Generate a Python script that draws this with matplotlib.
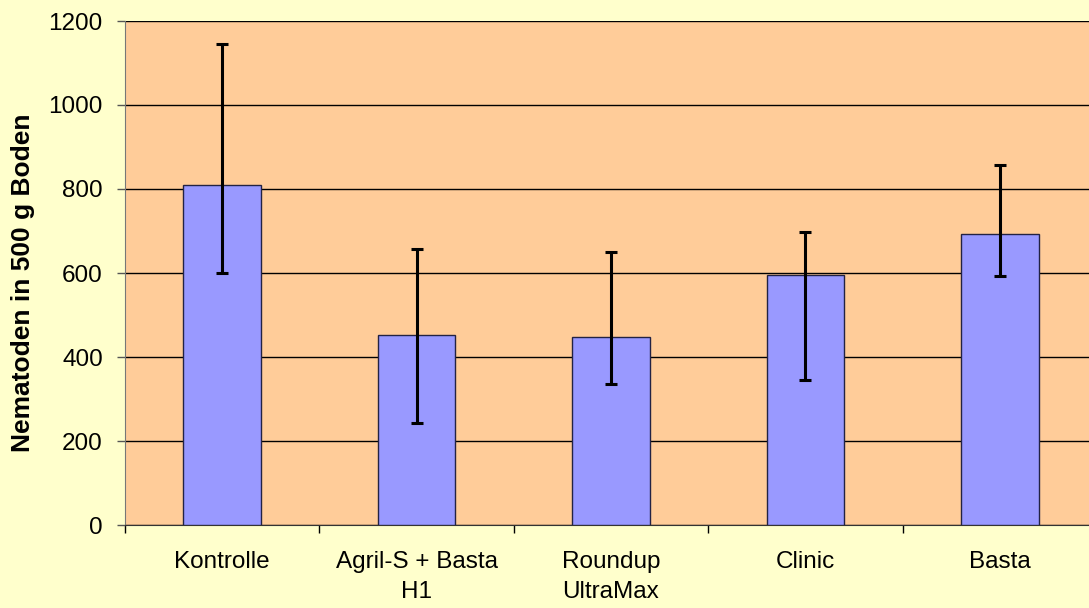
import numpy as np
import matplotlib
matplotlib.use("Agg")
import matplotlib.pyplot as plt
from matplotlib.ticker import FixedLocator

# ===== Daten =====
kategorien = ["Kontrolle", "Agril-S + Basta\nH1", "Roundup\nUltraMax", "Clinic", "Basta"]
mittelwerte = [810, 453, 447, 595, 694]
fehler_oben = [1146, 656, 649, 697, 856]
fehler_unten = [599, 244, 336, 346, 593]
y_ticks = [0, 200, 400, 600, 800, 1000, 1200]

plt.rcParams["font.family"] = ["Liberation Sans", "DejaVu Sans"]

fig = plt.figure(figsize=(10.89, 6.08), dpi=100, facecolor="#FFFFCC")
ax = fig.add_axes([125 / 1089, 1 - 525 / 608, (1097 - 125) / 1089, (525 - 21) / 608])
ax.set_facecolor("#FFCC99")

x = np.arange(len(kategorien))
mw = np.array(mittelwerte)
yerr = [mw - np.array(fehler_unten), np.array(fehler_oben) - mw]

ax.bar(x, mw, width=0.4, color="#9999FF", edgecolor="#222244", linewidth=1, zorder=3)
ax.errorbar(x, mw, yerr=yerr, fmt="none", ecolor="black", elinewidth=2.2,
            capsize=4, capthick=2.2, zorder=4)

ax.set_xlim(-0.5, len(kategorien) - 0.5)
ax.set_ylim(0, 1200)
ax.set_yticks(y_ticks)
ax.yaxis.grid(True, color="black", linewidth=1, zorder=1)
ax.set_axisbelow(True)

ax.set_xticks(x)
ax.set_xticklabels(kategorien, fontsize=17.5, linespacing=1.45)
ax.xaxis.set_minor_locator(FixedLocator(np.arange(len(kategorien) + 1) - 0.5))
ax.tick_params(axis="x", which="major", length=0, pad=19)
ax.tick_params(axis="x", which="minor", length=6, width=1, color="black", direction="out")
ax.tick_params(axis="y", labelsize=17.5, length=6, width=1, color="#555555", pad=10)

for s in ["top", "right"]:
    ax.spines[s].set_visible(False)
ax.spines["left"].set_color("#777777")
ax.spines["bottom"].set_color("#333333")

ax.set_ylabel("Nematoden in 500 g Boden", fontsize=19, fontweight="bold")
ax.yaxis.set_label_coords(-0.093, 0.48)

fig.savefig("out.png", dpi=100, facecolor=fig.get_facecolor())
